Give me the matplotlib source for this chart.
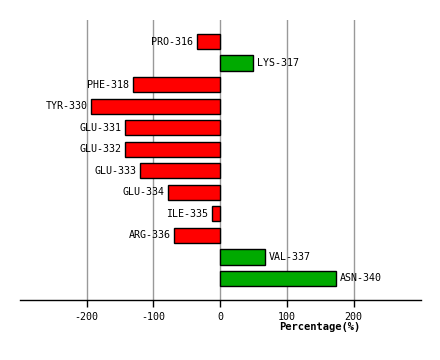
import matplotlib
matplotlib.use('Agg')
import matplotlib.pyplot as plt

# residue labels and percentage values (top to bottom)
residues = ['PRO-316', 'LYS-317', 'PHE-318', 'TYR-330', 'GLU-331', 'GLU-332',
            'GLU-333', 'GLU-334', 'ILE-335', 'ARG-336', 'VAL-337', 'ASN-340']
percent = [-34, 49, -130, -193, -142, -142, -119.5, -77.5, -11.5, -68.5, 66.5, 173.5]
xticks = [-200, -100, 0, 100, 200]

matplotlib.rcParams['font.family'] = 'DejaVu Sans Mono'
matplotlib.rcParams['font.size'] = 7

fig = plt.figure(figsize=(4.4, 3.6), dpi=100)
ax = fig.add_axes([20 / 440, 60 / 360, 401 / 440, 280 / 360])

ypos = list(range(len(residues)))
colors = ['#00aa00' if v > 0 else '#ff0000' for v in percent]
ax.barh(ypos, percent, height=0.71, color=colors, edgecolor='black', linewidth=1, zorder=3)

# labels beside the bar ends
for y, v, name in zip(ypos, percent, residues):
    if v < 0:
        ax.text(v - 6, y, name, ha='right', va='center', fontsize=7.2, zorder=4)
    else:
        ax.text(v + 6, y, name, ha='left', va='center', fontsize=7.2, zorder=4)

for t in xticks:
    ax.axvline(t, color='#999999', linewidth=1, zorder=1)

ax.set_xlim(-300, 301)
ax.set_ylim(12, -1)
ax.set_xticks(xticks)
ax.set_xticklabels([str(t) for t in xticks])
ax.set_yticks([])
ax.tick_params(axis='x', length=5, width=1, pad=4, labelsize=7.2)
for s in ['top', 'left', 'right']:
    ax.spines[s].set_visible(False)
ax.spines['bottom'].set_linewidth(1)

fig.text(320 / 440, 1 - 327 / 360, 'Percentage(%)', ha='center', va='center',
         fontsize=7.5, fontweight='bold')

fig.savefig('out.png', dpi=100)
